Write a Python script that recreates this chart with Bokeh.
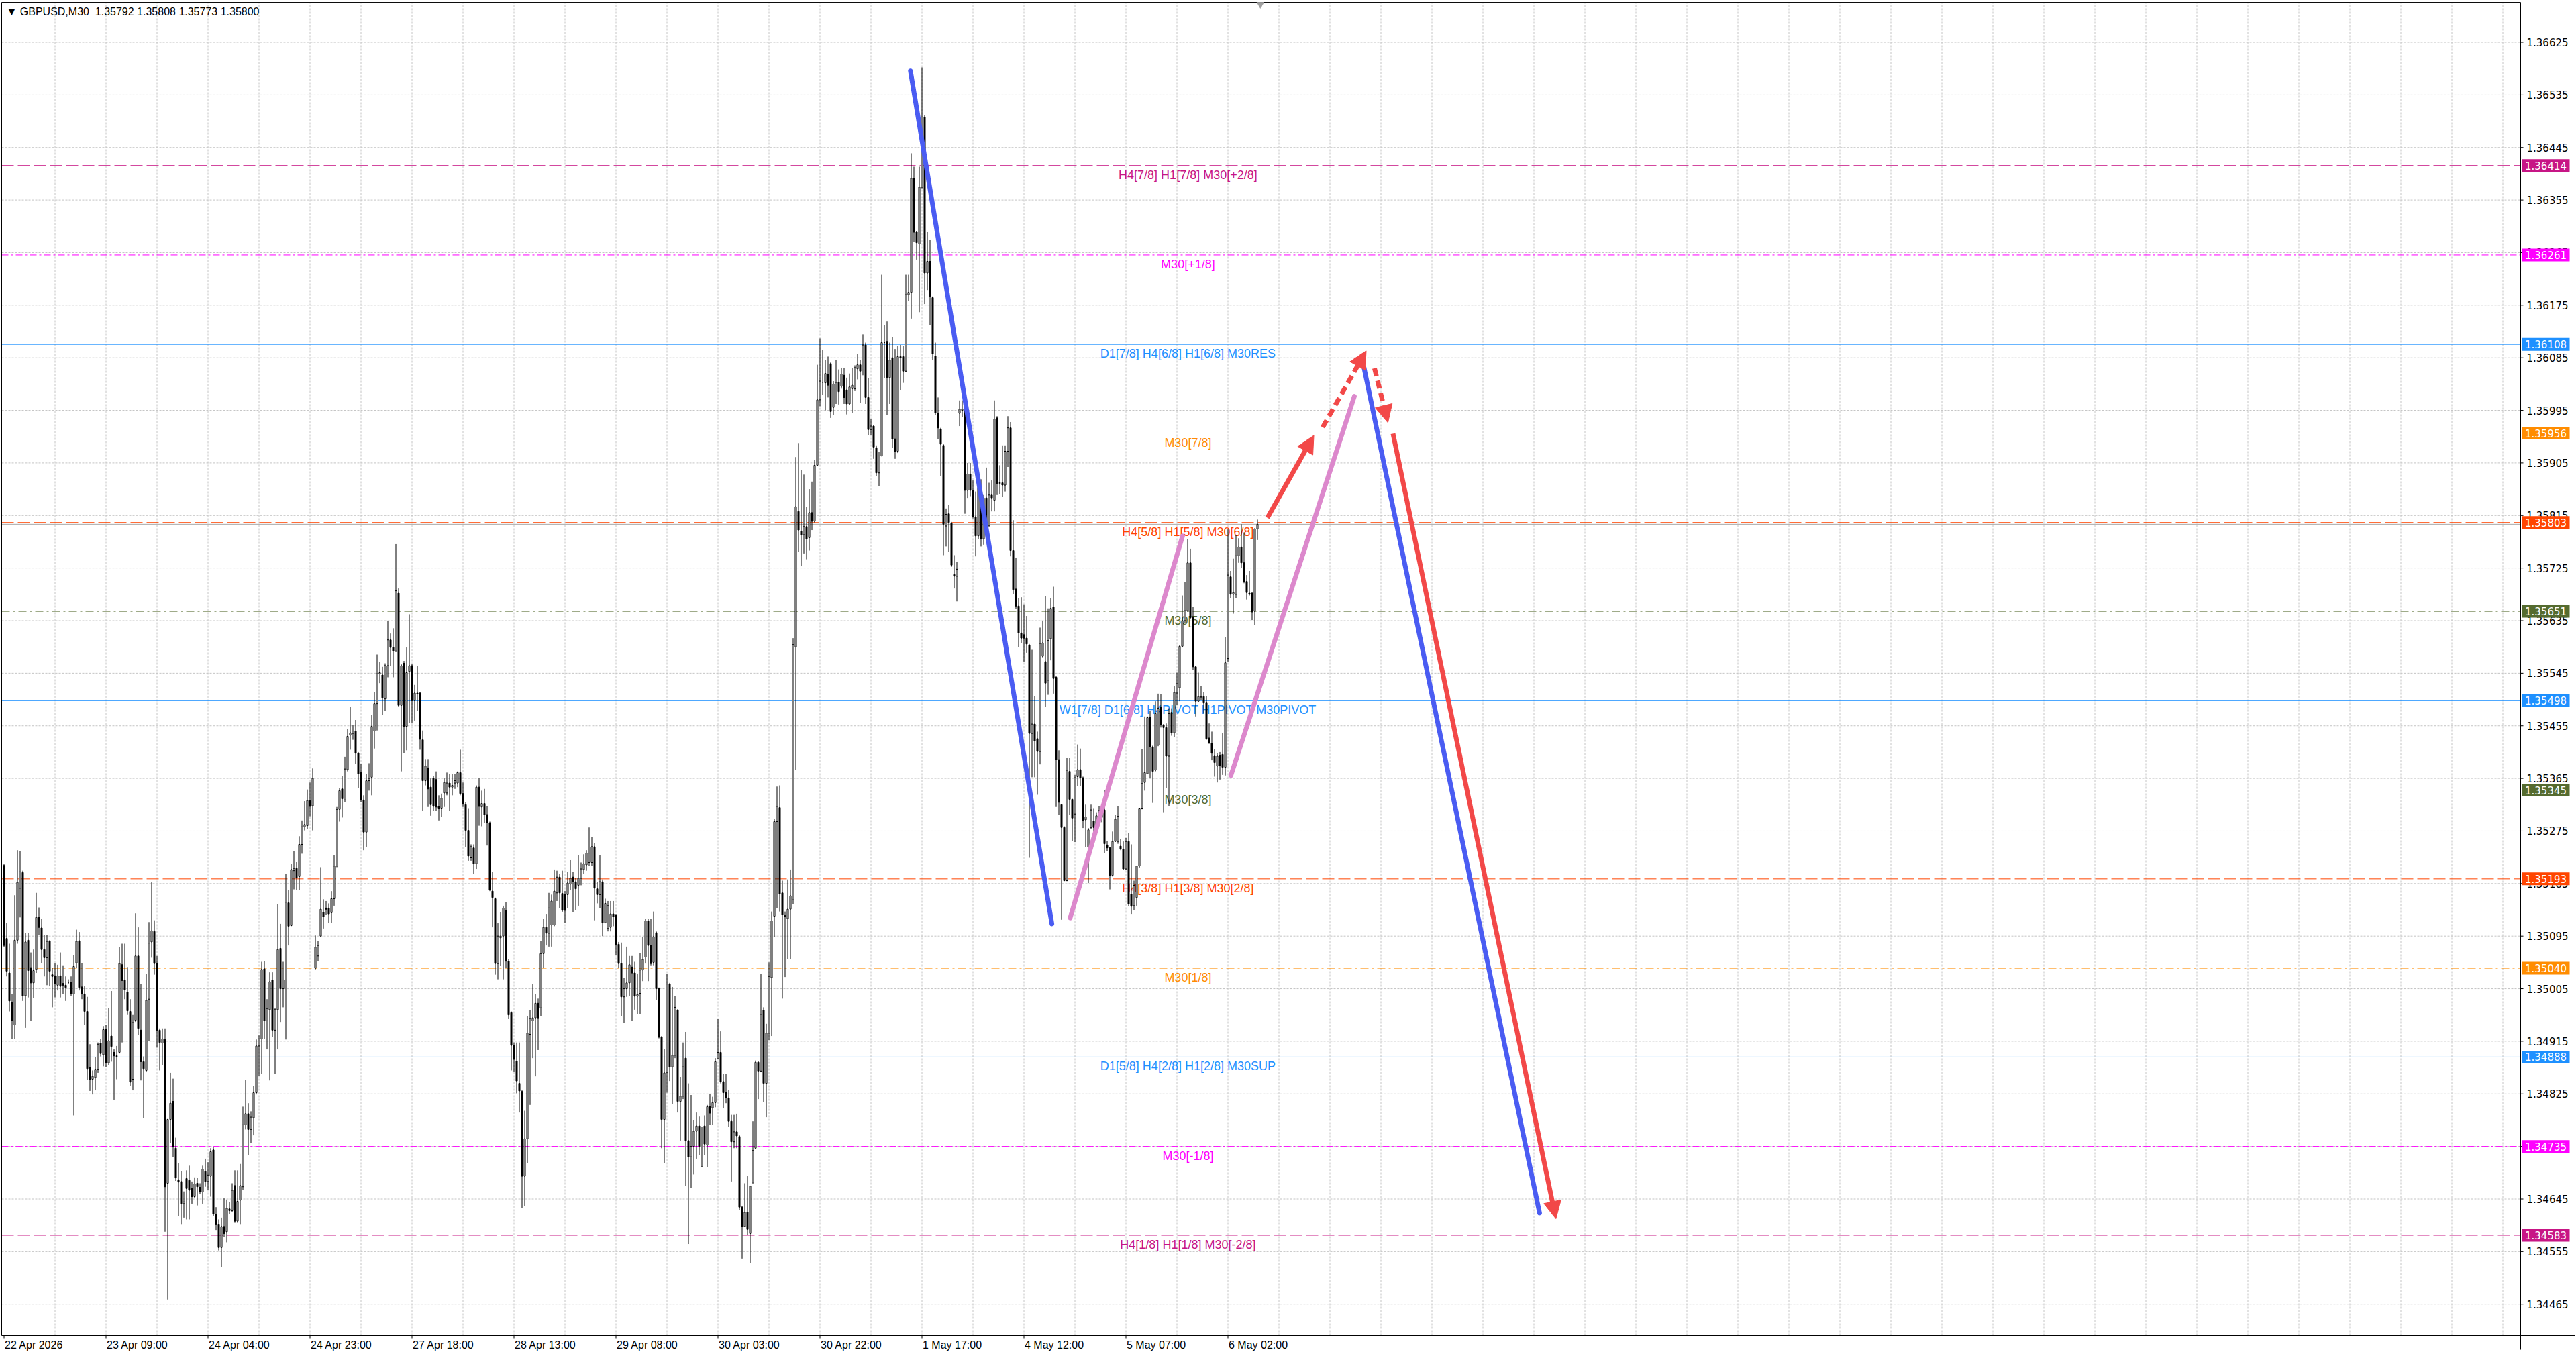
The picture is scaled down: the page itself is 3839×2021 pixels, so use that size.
import numpy as np
from bokeh.plotting import figure
from bokeh.models import Range1d, Arrow, NormalHead
from bokeh.embed import file_html
from bokeh.resources import INLINE
from bokeh.core.properties import value

# ---------------- data (prices in points of 0.00001) ----------------
PT = 1e-5
OPEN = [
135216,135091,135032,134981,134943,135088,135177,135204,134993,135088,
135041,135015,135038,135127,135109,135072,135058,135086,135029,135027,
135011,135027,135014,135011,135016,135016,134996,135049,135087,135008,
134996,134966,134870,134850,134853,134867,134912,134892,134935,134878,
134924,134896,134890,134896,135046,135020,134999,134966,134850,134951,
135061,134934,134880,134865,134987,135085,135103,135048,134934,134912,
134918,134672,134781,134812,134732,134678,134675,134637,134680,134677,
134663,134649,134672,134665,134657,134692,134675,134684,134729,134619,
134601,134562,134598,134589,134628,134625,134668,134607,134643,134666,
134772,134791,134764,134784,134827,134907,134919,135039,134950,134969,
135020,134934,134969,135074,135005,135020,135152,135113,135207,135211,
135197,135252,135282,135284,135327,135318,135040,135061,135095,135136,
135143,135143,135135,135159,135215,135312,135347,135328,135380,135439,
135442,135446,135408,135375,135328,135273,135361,135367,135446,135493,
135544,135542,135501,135558,135602,135589,135583,135682,135490,135562,
135454,135548,135558,135498,135511,135511,135431,135361,135383,135350,
135365,135363,135317,135314,135340,135340,135357,135350,135357,135357,
135375,135339,135320,135276,135229,135246,135219,135350,135316,135322,
135303,135289,135172,135159,135048,135092,135095,135139,135052,134964,
134908,134881,134843,134829,134684,134748,134927,134950,134955,134980,
134972,135065,135110,135100,135114,135114,135169,135196,135168,135166,
135166,135184,135196,135188,135182,135194,135209,135217,135221,135221,
135248,135176,135166,135188,135118,135108,135110,135133,135131,135081,
135048,134991,135005,135015,135042,135032,134992,134997,135037,135059,
135121,135079,135050,135101,135005,134922,134781,134862,135013,134871,
134891,134968,134812,134821,134886,134745,134717,134735,134761,134770,
134700,134770,134737,134803,134801,134810,134885,134896,134846,134827,
134818,134778,134743,134760,134752,134631,134598,134622,134586,134674,
134732,134879,134864,134968,134843,134929,135024,135129,135291,135315,
135169,135130,135125,135141,135157,135590,135822,135788,135782,135796,
135777,135820,135805,135901,136013,136043,136042,136057,136075,136000,
136043,136043,136036,136055,136030,136006,136032,136032,136066,136073,
136064,136107,136017,135962,135968,135931,135888,135917,136111,136113,
136051,136085,135946,135925,136087,136087,136062,136193,136197,136392,
136300,136280,136377,136497,136230,136250,136188,136088,135990,135963,
135935,135797,135818,135802,135714,135711,135990,135995,135997,135858,
135886,135858,135813,135780,135863,135775,135845,135798,135850,135841,
135982,135870,135871,135867,135925,135965,135755,135689,135660,135614,
135611,135605,135593,135442,135458,135433,135411,135574,135565,135533,
135604,135658,135538,135397,135320,135281,135190,135377,135329,135304,
135368,135380,135366,135294,135247,135281,135292,135281,135295,135310,
135311,135251,135246,135199,135257,135257,135249,135244,135210,135257,
135167,135147,135161,135215,135314,135358,135373,135469,135419,135379,
135422,135487,135457,135452,135403,135478,135443,135511,135520,135591,
135635,135652,135734,135640,135556,135497,135504,135505,135494,135434,
135425,135403,135386,135404,135406,135384,135570,135710,135680,135680,
135746,135761,135734,135702,135682,135682,135651,135792]
HIGH = [
135219,135118,135082,134996,135165,135242,135241,135207,135100,135100,
135067,135072,135169,135144,135125,135097,135097,135088,135041,135049,
135046,135067,135045,135026,135021,135026,135062,135106,135102,135049,
135009,134991,134910,134865,134888,134913,134919,134941,134943,134972,
135001,134901,134907,135076,135082,135082,135042,134987,134960,135134,
135110,135013,134889,135030,135119,135187,135122,135061,134937,134937,
134937,134782,134861,134851,134750,134706,134693,134658,134694,134702,
134675,134682,134681,134672,134702,134714,134708,134732,134734,134631,
134610,134613,134646,134644,134640,134672,134694,134694,134705,134803,
134849,134809,134795,134839,134918,134925,135051,135052,134987,135033,
135033,134972,135150,135116,135051,135201,135174,135219,135241,135222,
135266,135293,135326,135346,135358,135382,135096,135087,135213,135158,
135155,135151,135172,135233,135316,135348,135369,135402,135449,135488,
135456,135465,135410,135390,135336,135372,135391,135474,135513,135577,
135564,135556,135562,135635,135613,135622,135766,135690,135561,135566,
135589,135646,135561,135525,135558,135513,135447,135398,135398,135365,
135369,135377,135336,135339,135365,135375,135373,135373,135373,135377,
135414,135358,135324,135314,135252,135252,135353,135365,135344,135347,
135317,135291,135205,135161,135117,135136,135147,135153,135056,134966,
134913,134913,134913,134831,134796,134958,134968,135013,134996,134988,
135087,135125,135133,135169,135166,135209,135207,135202,135207,135172,
135205,135225,135205,135194,135233,135221,135235,135242,135281,135265,
135254,135188,135233,135192,135159,135155,135155,135155,135133,135085,
135084,135024,135077,135061,135061,135051,135031,135066,135094,135124,
135124,135125,135137,135103,135007,134924,134902,135030,135015,135008,
134992,134970,134854,134913,134931,134843,134823,134780,134793,134786,
134768,134788,134806,134825,134820,134886,134953,134932,134859,134859,
134832,134789,134789,134791,134755,134633,134672,134684,134668,134778,
134882,134881,135030,134973,134945,135050,135137,135295,135351,135353,
135190,135137,135192,135209,135605,135915,135939,135893,135885,135830,
135860,135873,135910,136073,136118,136098,136081,136087,136077,136045,
136081,136065,136068,136068,136051,136058,136068,136072,136092,136081,
136125,136111,136050,135980,135970,135935,135924,136227,136141,136147,
136111,136120,136100,136105,136107,136105,136227,136227,136435,136412,
136302,136412,136582,136500,136300,136287,136190,136111,136017,135965,
135937,135827,135833,135804,135747,135735,136012,136012,136006,135905,
135905,135875,135856,135875,135877,135850,135897,135871,135875,136012,
135985,135901,135935,135935,135985,135975,135807,135743,135674,135675,
135663,135643,135595,135585,135506,135445,135623,135635,135677,135656,
135673,135693,135540,135413,135321,135283,135400,135400,135330,135371,
135423,135416,135368,135320,135280,135320,135314,135307,135317,135318,
135345,135258,135247,135274,135303,135318,135261,135257,135263,135271,
135252,135190,135215,135314,135415,135471,135471,135480,135421,135497,
135510,135509,135457,135459,135485,135485,135523,135546,135593,135678,
135701,135774,135758,135659,135558,135546,135523,135513,135506,135459,
135445,135415,135408,135410,135443,135607,135791,135720,135741,135781,
135776,135800,135786,135713,135720,135683,135793,135808]
LOW = [
135076,135026,134966,134919,134919,135082,135127,134984,134938,134990,
134950,134989,135032,135097,135049,135026,135011,135009,134973,134990,
135002,134990,134996,134984,135013,134993,134788,135041,135002,134987,
134943,134849,134830,134824,134831,134861,134889,134872,134871,134874,
134880,134815,134850,134894,134913,134987,134960,134839,134831,134948,
134926,134848,134783,134862,134916,135058,135029,134904,134865,134874,
134589,134473,134741,134717,134676,134616,134601,134613,134610,134610,
134637,134647,134634,134653,134637,134666,134660,134649,134616,134592,
134557,134528,134580,134571,134619,134622,134604,134604,134601,134660,
134764,134720,134741,134754,134824,134856,134859,134919,134901,134848,
134922,134859,134901,134948,134973,134918,135079,135112,135175,135174,
135174,135236,135276,135278,135300,135276,135038,135052,135094,135108,
135131,135117,135118,135147,135213,135291,135298,135324,135377,135414,
135431,135390,135349,135324,135242,135248,135344,135336,135416,135447,
135528,135474,135480,135538,135558,135538,135581,135488,135377,135408,
135413,135460,135460,135464,135480,135414,135309,135353,135316,135301,
135309,135309,135293,135299,135316,135336,135309,135336,135347,135350,
135336,135316,135248,135224,135224,135202,135210,135284,135283,135289,
135250,135172,135110,135029,135021,135044,135021,135040,134954,134865,
134863,134826,134793,134629,134633,134707,134806,134886,134855,134900,
134958,135040,135079,135077,135077,135112,135155,135143,135136,135118,
135143,135174,135136,135139,135147,135182,135202,135207,135215,135215,
135122,135151,135143,135095,135117,135103,135103,135112,135062,135040,
134958,134946,134991,134993,134950,134969,134962,134962,135018,135048,
135018,135045,135045,134985,134920,134732,134707,134827,134847,134808,
134886,134793,134745,134816,134667,134568,134664,134687,134714,134720,
134699,134720,134699,134772,134772,134802,134884,134843,134800,134809,
134768,134675,134732,134732,134626,134543,134597,134584,134535,134671,
134730,134816,134862,134811,134785,134917,134924,135094,135143,135137,
134988,135025,135055,135055,135150,135380,135753,135728,135750,135740,
135755,135790,135803,135900,136002,136021,135995,136017,135982,135987,
136006,136005,136032,136006,135988,136005,135990,136028,136048,136008,
136055,136006,135953,135953,135912,135882,135865,135916,136050,135987,
136006,135931,135912,135922,136030,136042,136060,136182,136152,136283,
136253,136163,136375,136177,136201,136141,136081,135987,135946,135882,
135747,135762,135753,135727,135690,135668,135968,135983,135818,135845,
135848,135810,135745,135775,135762,135765,135795,135795,135822,135822,
135850,135852,135847,135856,135898,135745,135680,135655,135590,135597,
135565,135580,135229,135367,135367,135337,135389,135572,135487,135508,
135567,135510,135316,135303,135123,135189,135189,135303,135258,135256,
135352,135352,135280,135247,135186,135278,135272,135275,135290,135290,
135237,135240,135175,135197,135256,135253,135242,135209,135209,135146,
135133,135140,135147,135212,135312,135344,135372,135365,135323,135377,
135420,135452,135307,135349,135318,135438,135436,135490,135497,135589,
135631,135650,135638,135551,135471,135495,135499,135476,135431,135424,
135396,135368,135358,135363,135371,135370,135565,135673,135647,135673,
135734,135725,135699,135671,135678,135636,135627,135773]
CLOSE = [
135079,135035,134984,134950,135088,135187,135205,134993,135085,135036,
135015,135036,135127,135110,135072,135058,135086,135035,135026,135014,
135027,135009,135011,135007,135016,134996,135043,135086,135007,134996,
134966,134868,134850,134855,134867,134910,134894,134935,134878,134916,
134906,134890,134889,135048,135019,135003,134967,134845,134947,135061,
134937,134880,134868,134985,135083,135104,135048,134934,134913,134919,
134666,134781,134809,134735,134681,134674,134637,134640,134663,134660,
134649,134671,134666,134657,134696,134675,134686,134726,134619,134601,
134562,134598,134586,134629,134625,134660,134607,134641,134668,134772,
134791,134764,134785,134827,134907,134919,135038,134950,134971,135017,
134934,134969,135072,135005,135020,135153,135112,135209,135211,135195,
135252,135282,135286,135327,135317,135365,135076,135079,135141,135128,
135141,135133,135159,135215,135312,135344,135330,135381,135437,135443,
135446,135408,135373,135328,135273,135361,135365,135454,135493,135544,
135546,135503,135558,135602,135589,135583,135686,135490,135558,135454,
135546,135558,135498,135511,135510,135432,135361,135386,135347,135320,
135317,135316,135314,135331,135358,135357,135350,135353,135361,135375,
135339,135322,135276,135232,135248,135219,135350,135317,135322,135303,
135289,135174,135161,135048,135095,135095,135143,135052,134960,134908,
134884,134847,134830,134684,134748,134929,134954,134955,134980,134955,
135065,135110,135100,135143,135155,135172,135196,135169,135139,135139,
135186,135194,135188,135176,135194,135210,135219,135237,135237,135248,
135177,135166,135188,135118,135151,135147,135133,135128,135081,135048,
134991,135005,135015,135046,135032,134992,134995,135037,135055,135121,
135079,135048,135094,135005,134922,134781,134861,135013,134871,134891,
134973,134812,134821,134871,134745,134717,134735,134761,134770,134735,
134765,134739,134803,134792,134810,134880,134896,134846,134827,134818,
134778,134743,134760,134753,134631,134598,134622,134593,134667,134728,
134879,134864,134961,134843,134929,135026,135121,135291,135317,135167,
135132,135129,135141,135164,135594,135830,135790,135782,135796,135775,
135820,135805,135901,136013,136045,136043,136058,136038,135993,136040,
136043,136027,136057,136017,136006,136035,136038,136068,136073,136062,
136107,136017,135962,135968,135932,135888,135917,136111,136111,136051,
136081,135946,135925,136087,136085,136062,136193,136197,136392,136300,
136282,136377,136497,136230,136250,136190,136092,135991,135965,135937,
135800,135817,135803,135730,135711,135723,135997,135997,135858,135886,
135858,135813,135780,135863,135775,135845,135798,135850,135845,135980,
135870,135871,135867,135925,135965,135755,135688,135660,135614,135605,
135605,135595,135442,135458,135429,135411,135596,135597,135528,135601,
135656,135536,135397,135324,135281,135190,135379,135329,135297,135366,
135380,135366,135293,135299,135277,135311,135281,135301,135310,135298,
135253,135246,135199,135257,135295,135300,135244,135210,135257,135150,
135146,135182,135215,135314,135356,135375,135469,135419,135377,135476,
135485,135457,135452,135403,135476,135443,135512,135527,135591,135635,
135652,135734,135640,135556,135497,135505,135505,135494,135433,135426,
135408,135392,135403,135387,135384,135563,135713,135680,135683,135746,
135761,135734,135701,135683,135680,135650,135792,135800]

TITLE_TEXT = "\u25BC GBPUSD,M30\u00a0\u00a01.35792 1.35808 1.35773 1.35800"

TIME_TICK_BARS = [0, 38, 76, 114, 152, 190, 228, 266, 304, 342, 380, 418, 456]
TIME_TICK_LABELS = ["22 Apr 2026", "23 Apr 09:00", "24 Apr 04:00", "24 Apr 23:00",
                    "27 Apr 18:00", "28 Apr 13:00", "29 Apr 08:00", "30 Apr 03:00",
                    "30 Apr 22:00", "1 May 17:00", "4 May 12:00", "5 May 07:00",
                    "6 May 02:00"]
GRID_BARS = [19 * k for k in range(1, 50)]
SHIFT_BAR = 468.1   # chart-shift marker at the top edge

PRICE_TICKS = [1.34465, 1.34555, 1.34645, 1.34735, 1.34825, 1.34915, 1.35005, 1.35095,
               1.35185, 1.35275, 1.35365, 1.35455, 1.35545, 1.35635, 1.35725, 1.35815,
               1.35905, 1.35995, 1.36085, 1.36175, 1.36265, 1.36355, 1.36445, 1.36535,
               1.36625]

LEVEL_PRICES = [1.36414, 1.36261, 1.36108, 1.35956, 1.35803, 1.35651, 1.35498,
                1.35345, 1.35193, 1.35040, 1.34888, 1.34735, 1.34583]
LEVEL_TEXTS = ["H4[7/8] H1[7/8] M30[+2/8]", "M30[+1/8]", "D1[7/8] H4[6/8] H1[6/8] M30RES",
               "M30[7/8]", "H4[5/8] H1[5/8] M30[6/8]", "M30[5/8]",
               "W1[7/8] D1[6/8] H4PIVOT H1PIVOT M30PIVOT", "M30[3/8]",
               "H4[3/8] H1[3/8] M30[2/8]", "M30[1/8]", "D1[5/8] H4[2/8] H1[2/8] M30SUP",
               "M30[-1/8]", "H4[1/8] H1[1/8] M30[-2/8]"]
LEVEL_COLORS = ["#C71585", "#FF00FF", "#1E90FF", "#FF8C00", "#FF4500", "#556B2F", "#1E90FF",
                "#556B2F", "#FF4500", "#FF8C00", "#1E90FF", "#FF00FF", "#C71585"]
LEVEL_DASHES = ["18 6", "10 4 3 4", "solid", "12 5 3 5", "18 6", "12 5 3 5", "solid",
                "12 5 3 5", "18 6", "12 5 3 5", "solid", "10 4 3 4", "18 6"]
LEVEL_TEXT_BAR = 441.1
BID_PRICE = 1.35800

# analysis drawings (bar index, price)
SEG_X0 = [337.7, 397.2, 457.1, 506.7]
SEG_Y0 = [1.36576, 1.35126, 1.35370, 1.36068]
SEG_X1 = [390.4, 439.1, 503.1, 572.1]
SEG_Y1 = [1.35116, 1.35780, 1.36019, 1.34621]
SEG_COLORS = ["#4a5cf2", "#dc88cc", "#dc88cc", "#4a5cf2"]

ARROW_X0 = [470.7, 491.3, 510.6, 517.5]
ARROW_Y0 = [1.35811, 1.35966, 1.36067, 1.35955]
ARROW_X1 = [488.0, 507.5, 515.6, 578.2]
ARROW_Y1 = [1.35952, 1.36097, 1.35974, 1.34611]
ARROW_DASHES = ["solid", "12 7", "12 7", "solid"]
ARROW_COLOR = "#f24848"

# ---------------- geometry ----------------
W, H = 3837, 2019                 # whole canvas (the frame covers it all)
KX, KY = 4.0, 87070.0             # px per bar, px per price unit
XL = -1.375                       # bar value at the canvas left edge
YT = 1.366968                     # price at the canvas top edge
XR = XL + W / KX
YB = YT - H / KY
X0, X1 = -0.875, 937.625          # chart area (left/right borders) in bars
Y0, Y1 = 1.344113, 1.366933       # chart area (bottom/top borders) in price


def dx(px):
    return px / KX


def dy(px):
    return px / KY


p = figure(frame_width=W, frame_height=H, output_backend="svg", toolbar_location=None,
           title=None, x_axis_location=None, y_axis_location=None,
           x_range=Range1d(XL, XR), y_range=Range1d(YB, YT),
           min_border_left=0, min_border_right=0, min_border_top=0, min_border_bottom=0)
p.background_fill_color = "white"
p.border_fill_color = "white"
p.outline_line_color = None
p.grid.visible = False

GRID_COLOR = "#c4c4c4"
# grid (chart area only)
p.segment(x0=GRID_BARS, y0=[Y0] * len(GRID_BARS), x1=GRID_BARS, y1=[Y1] * len(GRID_BARS),
          line_color=GRID_COLOR, line_width=1, line_dash="3 2")
p.segment(x0=[X0] * len(PRICE_TICKS), y0=PRICE_TICKS, x1=[X1] * len(PRICE_TICKS), y1=PRICE_TICKS,
          line_color=GRID_COLOR, line_width=1, line_dash="3 2")

# level lines and their captions (behind candles)
for price, col, dash in zip(LEVEL_PRICES, LEVEL_COLORS, LEVEL_DASHES):
    p.segment(x0=[X0], y0=[price], x1=[X1], y1=[price], line_color=col, line_width=1,
              line_dash=dash)
p.segment(x0=[X0], y0=[BID_PRICE], x1=[X1], y1=[BID_PRICE], line_color="#a8a8a8", line_width=1)
p.text(x=[LEVEL_TEXT_BAR] * len(LEVEL_PRICES), y=[v - dy(4) for v in LEVEL_PRICES],
       text=LEVEL_TEXTS, text_color=LEVEL_COLORS, text_align="center", text_baseline="top",
       text_font=value("Liberation Sans"), text_font_size=value("18px"))

# candles
o = np.array(OPEN) * PT
h = np.array(HIGH) * PT
l = np.array(LOW) * PT
c = np.array(CLOSE) * PT
h = np.maximum(h, np.maximum(o, c))
l = np.minimum(l, np.minimum(o, c))
idx = np.arange(len(o))
up = c >= o
p.segment(x0=idx, y0=l, x1=idx, y1=h, line_color="black", line_width=1)
p.vbar(x=idx[up], bottom=o[up], top=c[up], width=0.5, fill_color="white",
       line_color="black", line_width=1)
p.vbar(x=idx[~up], bottom=c[~up], top=o[~up], width=0.5, fill_color="black",
       line_color="black", line_width=1)

# analysis lines and arrows
p.segment(x0=SEG_X0, y0=SEG_Y0, x1=SEG_X1, y1=SEG_Y1, line_color=SEG_COLORS,
          line_width=7, line_cap="round")
for xa, ya, xb, yb, dash in zip(ARROW_X0, ARROW_Y0, ARROW_X1, ARROW_Y1, ARROW_DASHES):
    p.add_layout(Arrow(x_start=xa, y_start=ya, x_end=xb, y_end=yb,
                       line_color=ARROW_COLOR, line_width=7, line_dash=dash,
                       end=NormalHead(size=26, fill_color=ARROW_COLOR,
                                      line_color=ARROW_COLOR, line_width=1)))

# chart border, price scale and time scale
p.segment(x0=[X0, X0, X1, X0], y0=[Y0, Y1, YB + dy(8), Y0],
          x1=[X0, X1, X1, XR], y1=[Y1, Y1, Y1, Y0],
          line_color="black", line_width=1)
p.scatter(x=[SHIFT_BAR], y=[Y1 - dy(3)], marker="inverted_triangle", size=10,
          fill_color="#a0a0a0", line_color="#a0a0a0")
p.segment(x0=[X1] * len(PRICE_TICKS), y0=PRICE_TICKS, x1=[X1 + dx(4)] * len(PRICE_TICKS),
          y1=PRICE_TICKS, line_color="black", line_width=1)
p.text(x=[X1 + dx(9)] * len(PRICE_TICKS), y=PRICE_TICKS, text=[f"{v:.5f}" for v in PRICE_TICKS],
       text_color="black", text_align="left", text_baseline="middle",
       text_font=value("DejaVu Sans"), text_font_size=value("15px"))
p.segment(x0=TIME_TICK_BARS, y0=[Y0] * len(TIME_TICK_BARS), x1=TIME_TICK_BARS,
          y1=[Y0 - dy(4)] * len(TIME_TICK_BARS), line_color="black", line_width=1)
p.text(x=[b + dx(1) for b in TIME_TICK_BARS], y=[Y0 - dy(6)] * len(TIME_TICK_BARS),
       text=TIME_TICK_LABELS, text_color="black", text_align="left", text_baseline="top",
       text_font=value("Liberation Sans"), text_font_size=value("16px"))

# price tags of the levels on the price scale
p.quad(left=[X1 + dx(2)] * len(LEVEL_PRICES), right=[X1 + dx(73)] * len(LEVEL_PRICES),
       bottom=[v - dy(9.5) for v in LEVEL_PRICES], top=[v + dy(9.5) for v in LEVEL_PRICES],
       fill_color=LEVEL_COLORS, line_color=None)
p.text(x=[X1 + dx(37.5)] * len(LEVEL_PRICES), y=LEVEL_PRICES,
       text=[f"{v:.5f}" for v in LEVEL_PRICES], text_color="white", text_align="center",
       text_baseline="middle", text_font=value("DejaVu Sans"), text_font_size=value("15px"))

# symbol caption
p.text(x=[X0 + dx(7)], y=[Y1 - dy(5)], text=[TITLE_TEXT], text_color="black",
       text_align="left", text_baseline="top", text_font=value("Liberation Sans"),
       text_font_size=value("16px"))

open("out.html", "w").write(file_html(p, INLINE))
